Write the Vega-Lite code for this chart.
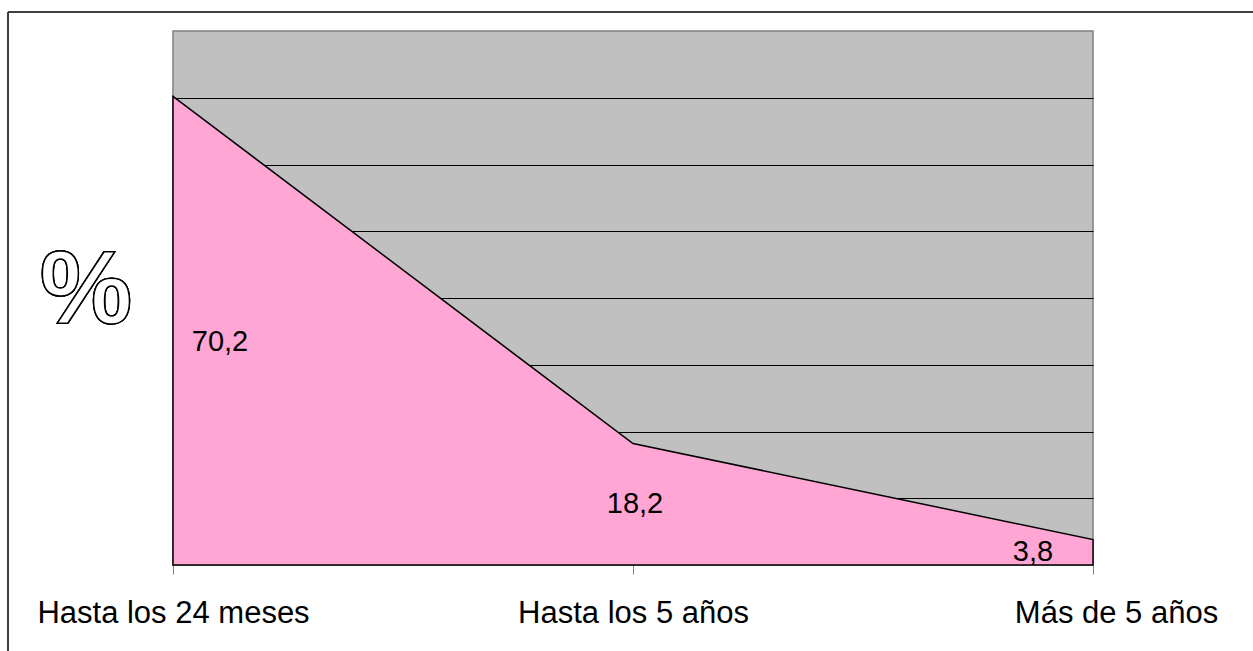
{
  "$schema": "https://vega.github.io/schema/vega-lite/v6.json",
  "width": 920,
  "height": 534,
  "autosize": {"type": "none"},
  "padding": {"left": 173, "top": 31, "right": 160, "bottom": 86},
  "background": "white",
  "config": {
    "view": {"fill": "#c0c0c0", "stroke": "#808080", "strokeWidth": 1.5},
    "font": "Liberation Sans"
  },
  "data": {
    "values": [
      {"grupo": "Hasta los 24 meses", "valor": 70.2, "etiqueta": "70,2"},
      {"grupo": "Hasta los 5 años", "valor": 18.2, "etiqueta": "18,2"},
      {"grupo": "Más de 5 años", "valor": 3.8, "etiqueta": "3,8"}
    ]
  },
  "resolve": {"scale": {"x": "independent"}, "axis": {"x": "independent"}},
  "layer": [
    {
      "mark": {"type": "area", "fill": "#ffa6d4", "stroke": "#000000", "strokeWidth": 1.5, "fillOpacity": 1},
      "encoding": {
        "x": {
          "field": "grupo", "type": "ordinal", "sort": null,
          "scale": {"type": "point", "padding": 0},
          "axis": {
            "title": null, "labelAngle": 0, "labelFont": "Liberation Sans", "labelFontSize": 31,
            "labelColor": "#000000", "labelPadding": 24, "tickSize": 9, "tickColor": "#808080",
            "tickWidth": 1, "domain": false, "labelBound": false, "labelOverlap": false,
            "labelLimit": 0, "labelAlign": "center", "labelFlush": false,
            "labelOffset": {"condition": {"test": "datum.value === 'Más de 5 años'", "value": 23}, "value": 0}
          }
        },
        "y": {
          "field": "valor", "type": "quantitative",
          "scale": {"domain": [0, 80], "nice": false, "zero": true},
          "axis": {
            "title": null, "labels": false, "ticks": false, "domain": false, "grid": true,
            "gridColor": "#000000", "gridWidth": 1, "values": [10, 20, 30, 40, 50, 60, 70]
          }
        }
      }
    },
    {
      "transform": [{"calculate": "datum.valor / 2", "as": "mitad"}],
      "mark": {
        "type": "text", "font": "Liberation Sans", "fontSize": 29, "color": "#000000",
        "align": "center", "baseline": "middle",
        "dx": {"expr": "datum.valor > 50 ? 47 : (datum.valor < 5 ? -60 : 2)"},
        "dy": {"expr": "datum.valor > 50 ? 11 : 0"}
      },
      "encoding": {
        "x": {"field": "grupo", "type": "ordinal", "sort": null, "scale": {"type": "point", "padding": 0}, "axis": null},
        "y": {"field": "mitad", "type": "quantitative", "scale": {"domain": [0, 80], "nice": false}},
        "text": {"field": "etiqueta"}
      }
    },
    {
      "layer": [
        {
          "mark": {"type": "rule", "color": "#404040", "strokeWidth": 2},
          "encoding": {
            "x": {"datum": -0.17935, "type": "quantitative", "scale": {"domain": [0, 1], "nice": false, "zero": false}, "axis": null},
            "y": {"datum": 82.846, "type": "quantitative", "scale": {"domain": [0, 80], "nice": false}},
            "y2": {"datum": -14.2}
          }
        },
        {
          "mark": {"type": "rule", "color": "#404040", "strokeWidth": 2},
          "encoding": {
            "x": {"datum": -0.17935, "type": "quantitative", "scale": {"domain": [0, 1], "nice": false, "zero": false}, "axis": null},
            "x2": {"datum": 1.1815},
            "y": {"datum": 82.846, "type": "quantitative", "scale": {"domain": [0, 80], "nice": false}}
          }
        },
        {
          "mark": {
            "type": "text", "text": "%", "font": "Liberation Sans", "fontSize": 104, "fontWeight": "bold",
            "fill": "#ffffff", "stroke": "#000000", "strokeWidth": 1.5,
            "align": "center", "baseline": "alphabetic"
          },
          "encoding": {
            "x": {"datum": -0.0946, "type": "quantitative", "scale": {"domain": [0, 1], "nice": false, "zero": false}, "axis": null},
            "y": {"datum": 36.25, "type": "quantitative", "scale": {"domain": [0, 80], "nice": false}}
          }
        }
      ]
    }
  ]
}
